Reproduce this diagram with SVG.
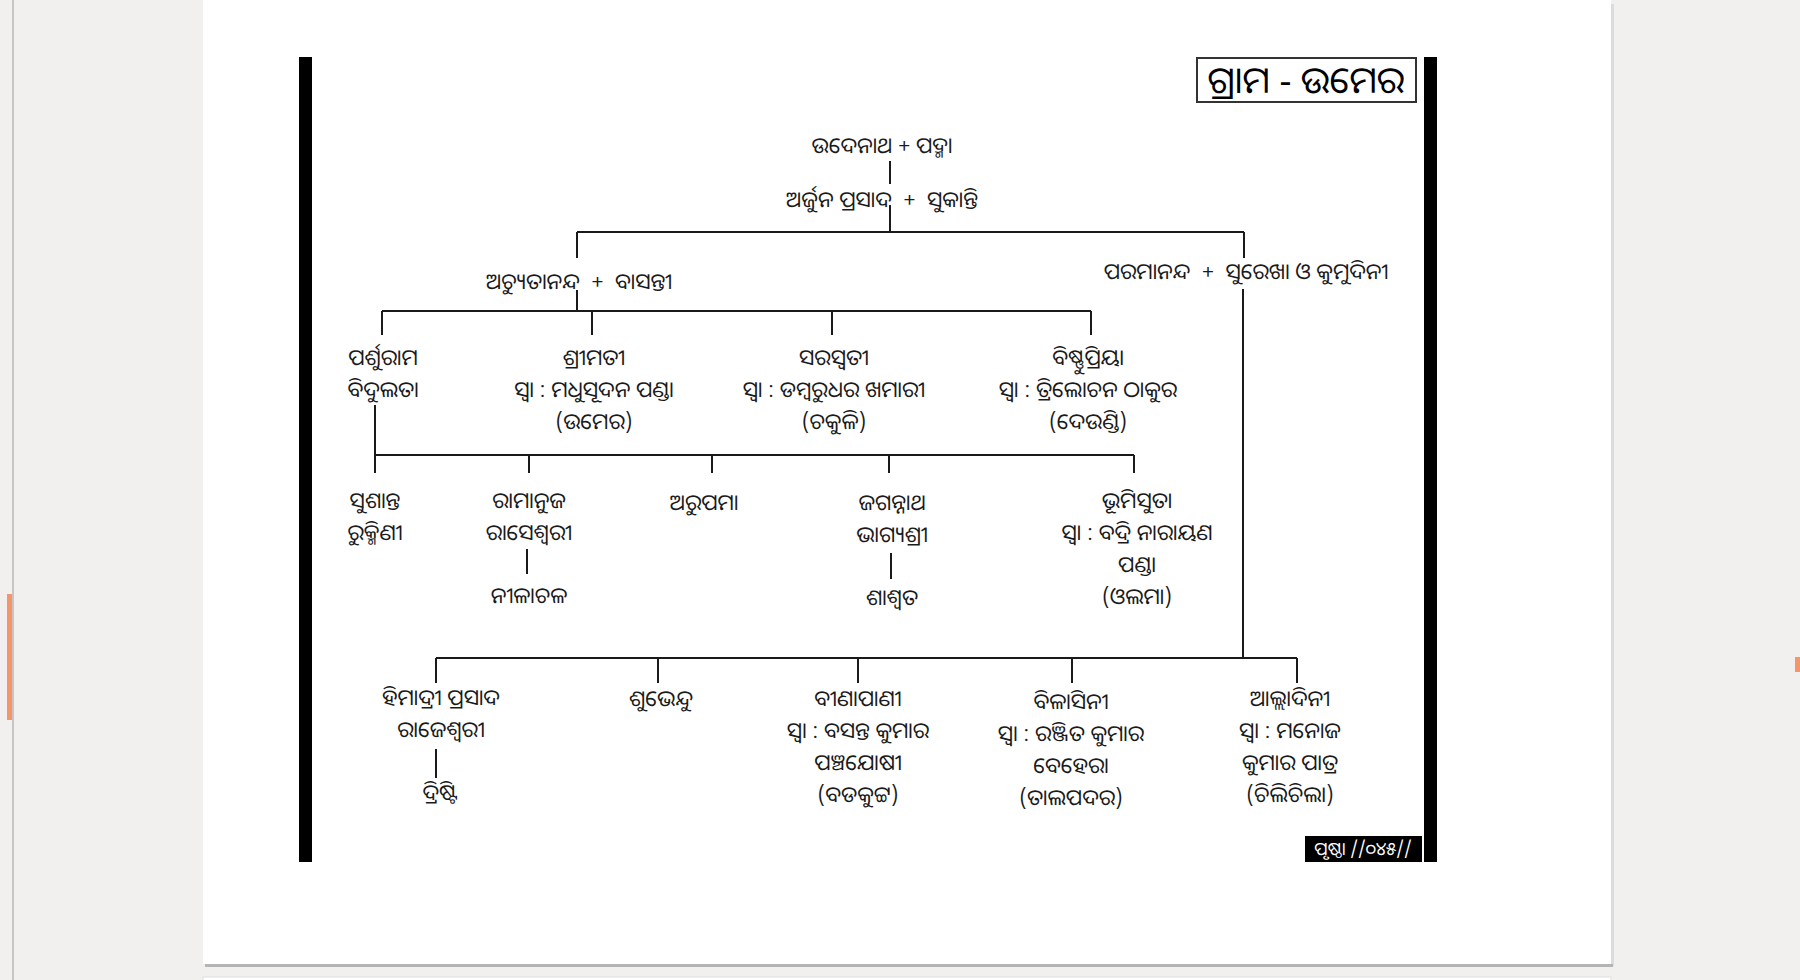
<svg xmlns="http://www.w3.org/2000/svg" width="1800" height="980" viewBox="0 0 1800 980">
<style>
.t{font-family:'Noto Sans Oriya','Lohit Odia','Noto Sans',sans-serif;font-size:22px;fill:#1a1a1a;text-anchor:middle;white-space:pre}
.ttl{font-family:'Noto Sans Oriya','Lohit Odia','Noto Sans',sans-serif;font-size:37px;fill:#000;text-anchor:middle}
.pg{font-family:'Noto Sans Oriya','Lohit Odia','Noto Sans',sans-serif;font-size:18px;fill:#fff;text-anchor:middle}
.c{stroke:#1a1a1a;stroke-width:2;fill:none}
</style>
<rect x="0" y="0" width="1800" height="980" fill="#f1f0ee"/>
<rect x="12" y="0" width="2" height="980" fill="#c6c6c6"/>
<rect x="7" y="594" width="5" height="126" fill="#f4956a"/>
<rect x="1795" y="657" width="5" height="15" fill="#f4956a"/>
<rect x="1611" y="4" width="3" height="962" fill="#dcdcdc"/>
<rect x="205" y="964" width="1408" height="3" fill="#b4b4b4"/>
<rect x="203" y="0" width="1408" height="964" fill="#ffffff"/>
<rect x="203" y="977" width="1408" height="10" fill="#ffffff" stroke="#dddddd" stroke-width="1"/>
<g id="frame">
<rect x="299" y="57" width="13" height="805" fill="#000"/>
<rect x="1424" y="57" width="13" height="805" fill="#000"/>
</g>
<g id="title">
<rect x="1197" y="58" width="219" height="44" fill="#fff" stroke="#333" stroke-width="2"/>
<text class="ttl" x="1306" y="93">ଗ୍ରାମ - ଉମେର</text>
</g>
<g id="connectors">
<line class="c" x1="890" y1="161" x2="890" y2="184"/>
<line class="c" x1="890" y1="205" x2="890" y2="232"/>
<line class="c" x1="577" y1="232" x2="1244" y2="232"/>
<line class="c" x1="577" y1="232" x2="577" y2="258"/>
<line class="c" x1="1244" y1="232" x2="1244" y2="258"/>
<line class="c" x1="577" y1="290" x2="577" y2="311"/>
<line class="c" x1="382" y1="311" x2="1091" y2="311"/>
<line class="c" x1="382" y1="311" x2="382" y2="335"/>
<line class="c" x1="592" y1="311" x2="592" y2="335"/>
<line class="c" x1="832" y1="311" x2="832" y2="335"/>
<line class="c" x1="1091" y1="311" x2="1091" y2="335"/>
<line class="c" x1="375" y1="405" x2="375" y2="455"/>
<line class="c" x1="375" y1="455" x2="1134" y2="455"/>
<line class="c" x1="375" y1="455" x2="375" y2="473"/>
<line class="c" x1="529" y1="455" x2="529" y2="473"/>
<line class="c" x1="712" y1="455" x2="712" y2="473"/>
<line class="c" x1="889" y1="455" x2="889" y2="473"/>
<line class="c" x1="1134" y1="455" x2="1134" y2="473"/>
<line class="c" x1="527" y1="549" x2="527" y2="574"/>
<line class="c" x1="891" y1="553" x2="891" y2="579"/>
<line class="c" x1="1243" y1="289" x2="1243" y2="658"/>
<line class="c" x1="436" y1="658" x2="1297" y2="658"/>
<line class="c" x1="436" y1="658" x2="436" y2="683"/>
<line class="c" x1="658" y1="658" x2="658" y2="683"/>
<line class="c" x1="858" y1="658" x2="858" y2="683"/>
<line class="c" x1="1072" y1="658" x2="1072" y2="683"/>
<line class="c" x1="1297" y1="658" x2="1297" y2="683"/>
<line class="c" x1="436" y1="749" x2="436" y2="778"/>
</g>
<g id="n-udenath"><text class="t" x="882" y="153">ଉଦେନାଥ + ପଦ୍ମା</text></g>
<g id="n-arjun"><text class="t" x="882" y="207">ଅର୍ଜୁନ ପ୍ରସାଦ  +  ସୁକାନ୍ତି</text></g>
<g id="n-achyut"><text class="t" x="579" y="289">ଅଚ୍ୟୁତାନନ୍ଦ  +  ବାସନ୍ତୀ</text></g>
<g id="n-paramananda"><text class="t" x="1246" y="279">ପରମାନନ୍ଦ  +  ସୁରେଖା ଓ କୁମୁଦିନୀ</text></g>
<g id="n-parshuram"><text class="t" x="383" y="365">ପର୍ଶୁରାମ</text><text class="t" x="383" y="397">ବିଦୁଲତା</text></g>
<g id="n-shrimati"><text class="t" x="594" y="365">ଶ୍ରୀମତୀ</text><text class="t" x="594" y="397">ସ୍ୱା : ମଧୁସୂଦନ ପଣ୍ଡା</text><text class="t" x="594" y="429">(ଉମେର)</text></g>
<g id="n-saraswati"><text class="t" x="834" y="365">ସରସ୍ୱତୀ</text><text class="t" x="834" y="397">ସ୍ୱା : ଡମ୍ବରୁଧର ଖମାରୀ</text><text class="t" x="834" y="429">(ଚକୁଳି)</text></g>
<g id="n-bishnupriya"><text class="t" x="1088" y="365">ବିଷ୍ଣୁପ୍ରିୟା</text><text class="t" x="1088" y="397">ସ୍ୱା : ତ୍ରିଲୋଚନ ଠାକୁର</text><text class="t" x="1088" y="429">(ଦେଉଣ୍ଡି)</text></g>
<g id="n-sushanta"><text class="t" x="375" y="508">ସୁଶାନ୍ତ</text><text class="t" x="375" y="540">ରୁକ୍ମିଣୀ</text></g>
<g id="n-ramanuja"><text class="t" x="529" y="508">ରାମାନୁଜ</text><text class="t" x="529" y="540">ରାସେଶ୍ୱରୀ</text></g>
<g id="n-nilachal"><text class="t" x="529" y="603">ନୀଳାଚଳ</text></g>
<g id="n-arupama"><text class="t" x="704" y="510">ଅରୁପମା</text></g>
<g id="n-jagannath"><text class="t" x="892" y="510">ଜଗନ୍ନାଥ</text><text class="t" x="892" y="542">ଭାଗ୍ୟଶ୍ରୀ</text></g>
<g id="n-shashwat"><text class="t" x="892" y="605">ଶାଶ୍ୱତ</text></g>
<g id="n-bhumisuta"><text class="t" x="1137" y="508">ଭୂମିସୁତା</text><text class="t" x="1137" y="540">ସ୍ୱା : ବଦ୍ରି ନାରାୟଣ</text><text class="t" x="1137" y="572">ପଣ୍ଡା</text><text class="t" x="1137" y="604">(ଓଲମା)</text></g>
<g id="n-himadri"><text class="t" x="441" y="705">ହିମାଦ୍ରୀ ପ୍ରସାଦ</text><text class="t" x="441" y="737">ରାଜେଶ୍ୱରୀ</text></g>
<g id="n-drishti"><text class="t" x="440" y="800">ଦ୍ରିଷ୍ଟି</text></g>
<g id="n-shubhendu"><text class="t" x="661" y="706">ଶୁଭେନ୍ଦୁ</text></g>
<g id="n-binapani"><text class="t" x="858" y="706">ବୀଣାପାଣୀ</text><text class="t" x="858" y="738">ସ୍ୱା : ବସନ୍ତ କୁମାର</text><text class="t" x="858" y="770">ପଞ୍ଚଯୋଷୀ</text><text class="t" x="858" y="802">(ବଡକୁଟ୍ଟ)</text></g>
<g id="n-bilasini"><text class="t" x="1071" y="709">ବିଳାସିନୀ</text><text class="t" x="1071" y="741">ସ୍ୱା : ରଞ୍ଜିତ କୁମାର</text><text class="t" x="1071" y="773">ବେହେରା</text><text class="t" x="1071" y="805">(ତାଲପଦର)</text></g>
<g id="n-ahladini"><text class="t" x="1290" y="706">ଆଲ୍ଲାଦିନୀ</text><text class="t" x="1290" y="738">ସ୍ୱା : ମନୋଜ</text><text class="t" x="1290" y="770">କୁମାର ପାତ୍ର</text><text class="t" x="1290" y="802">(ଚିଲିଚିଲା)</text></g>
<g id="pageno">
<rect x="1305" y="836" width="117" height="26" fill="#000"/>
<text class="pg" x="1363" y="855">ପୃଷ୍ଠା //୦୪୫//</text>
</g>
</svg>
